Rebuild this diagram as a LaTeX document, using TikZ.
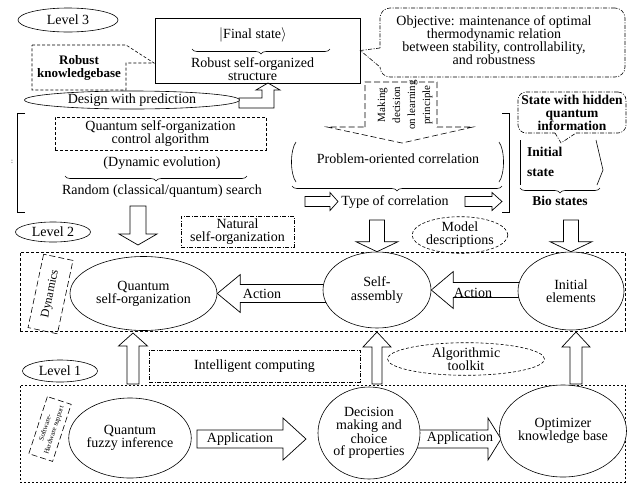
\documentclass[tikz,border=0pt]{standalone}
\usepackage{fontspec}
\setmainfont{Liberation Serif}
\usetikzlibrary{calc,shapes.geometric,decorations.pathreplacing,backgrounds}

% hollow block arrow, horizontal: #1 start, #2 tip, #3 signed head length,
% #4 half shaft width, #5 half head width
\newcommand\hblock[5]{\draw[blockarrow] let \p1=(#1), \p2=(#2) in
  ({\x1},{\y2+(#4)}) -- ({\x2+(#3)},{\y2+(#4)}) -- ({\x2+(#3)},{\y2+(#5)}) -- (\p2)
  -- ({\x2+(#3)},{\y2-(#5)}) -- ({\x2+(#3)},{\y2-(#4)}) -- ({\x1},{\y2-(#4)}) -- cycle;}
% hollow block arrow, vertical (same arguments)
\newcommand\vblock[5]{\draw[blockarrow] let \p1=(#1), \p2=(#2) in
  ({\x2-(#4)},{\y1}) -- ({\x2-(#4)},{\y2+(#3)}) -- ({\x2-(#5)},{\y2+(#3)}) -- (\p2)
  -- ({\x2+(#5)},{\y2+(#3)}) -- ({\x2+(#4)},{\y2+(#3)}) -- ({\x2+(#4)},{\y1}) -- cycle;}

\begin{document}
\begin{tikzpicture}[x=1pt,y=-1pt,
  font=\fontsize{14}{13.2}\selectfont,
  every node/.style={align=center, inner sep=0pt},
  thinline/.style={line width=0.6pt},
  dbox/.style={draw, line width=0.6pt, dash pattern=on 3pt off 2pt},
  ddot/.style={draw, line width=0.6pt, dash pattern=on 4pt off 1.5pt on 1pt off 1.5pt},
  ldash/.style={draw, line width=0.6pt, dash pattern=on 6pt off 3pt},
  oval/.style={ellipse, draw, line width=0.6pt, fill=white},
  blockarrow/.style={draw, line width=0.7pt, fill=white, line join=miter},
  brc/.style={decorate, decoration={brace, amplitude=5pt, mirror}, line width=0.6pt},
  boldtext/.style={font=\fontsize{13.5}{13}\selectfont\bfseries},
]
\useasboundingbox (0,0) rectangle (630,483);

% ---------------- Level 3 ----------------
\node[oval, minimum width=100, minimum height=24] (lv3) at (68,20) {Level 3};

\node[font=\fontsize{13}{13}\selectfont\bfseries] (kb) at (79,68) {Robust\\knowledgebase};
\coordinate (kbtip) at (154,63);
\draw[dbox] (32,45) -- (126,45) -- (kbtip) -- (126,63) -- (126,90) -- (32,90) -- cycle;

\node[draw, thinline, minimum width=205, minimum height=65] (final) at (257.5,50.5) {};
\node (fs) at (253,35) {$|$Final state$\rangle$};
\draw[brc] (192,49) -- (330,49);
\node (rss) at (252.5,69) {Robust self-organized\\structure};

\node[ddot, rounded corners=10pt, minimum width=245, minimum height=69] (obj) at (502.5,42.5) {};
\node (objtext) at (494,40) {Objective: maintenance of optimal\\thermodynamic relation\\between stability, controllability,\\and robustness};
\fill[white] (378.5,48) rectangle (381.5,67);
\draw[ddot] (380,48) -- (final.east) -- (380,67);

\node[oval, minimum width=215, minimum height=17] (design) at (132,100) {Design with prediction};

% left bracket and its contents
\draw[thinline] (25,113) -- (17,113) -- (17,212) -- (25,212);
\node[font=\fontsize{7}{7}\selectfont] (dots) at (12,162) {:};
\node[dbox, minimum width=211, minimum height=33] (qsoca) at (160.5,133.5) {Quantum self-organization\\control algorithm};
\node (dynev) at (162,163) {(Dynamic evolution)};
\draw[brc] (65,176) -- (247,176);
\node (rand) at (162,191) {Random (classical/quantum) search};

% decision on learning principle (dashed block arrow)
\draw[ldash] (365,127) -- (365,82) -- (437,82) -- (437,127) -- (473,127) -- (402,143) -- (327,127) -- cycle;
\node[rotate=90, font=\fontsize{11}{15}\selectfont] (mdec) at (405,105) {Making\\decision\\on learning\\principle};

% problem-oriented correlation
\node (poc) at (398,159) {Problem-oriented correlation};
\draw[thinline] (296,142) .. controls (290,150) and (290,174) .. (296,182);
\draw[thinline] (499,142) .. controls (505,150) and (505,174) .. (499,182);
\draw[brc] (292,186) -- (502,186);
\node (toc) at (395,202) {Type of correlation};
\coordinate (ta1s) at (305,201.5);
\coordinate (ta1t) at (338,201.5);
\coordinate (ta2s) at (465,201.5);
\coordinate (ta2t) at (502,201.5);
\draw[thinline] (502,113) -- (509,113) -- (509,212) -- (502,212);

% bio states
\node[ddot, rounded corners=8pt, boldtext, minimum width=108, minimum height=41] (hidden) at (572,112.5) {State with hidden\\quantum\\information};
\coordinate (stip) at (561,143);
\fill[white] (555,131.5) rectangle (576,134.5);
\draw[ddot] (555,133) -- (stip) -- (576,133);
\node[boldtext, anchor=west] (init) at (527,152) {Initial};
\node[boldtext, anchor=west] (istate) at (527,173) {state};
\draw[thinline] (520,140) -- (520,185);
\draw[thinline] (596,140) -- (603,170) -- (597,185);
\draw[brc] (520,188) -- (600,188);
\node[boldtext] (bio) at (560,201) {Bio states};

% ---------------- Level 2 ----------------
\node[oval, minimum width=75, minimum height=20] (lv2) at (53,232) {Level 2};
\node[ddot, minimum width=113, minimum height=31] (nat) at (237.5,231.5) {Natural\\self-organization};
\node[oval, dash pattern=on 3pt off 2pt, minimum width=94, minimum height=33] (model) at (460,235) {Model\\descriptions};

\node[dbox, minimum width=605, minimum height=79] (L2) at (322.5,291.5) {};
\node[ldash, rotate=78, minimum width=75, minimum height=30, font=\fontsize{12}{12}\selectfont] (dyn) at (50.5,294) {Dynamics};
\node[oval, minimum width=147, minimum height=74] (qso) at (143.5,293.5) {Quantum\\self-organization};
\node[oval, minimum width=108, minimum height=76] (sa) at (377,290) {Self-\\assembly};
\node[oval, minimum width=106, minimum height=78] (ie) at (571,291) {Initial\\elements};
\node (act1) at (262,294) {Action};
\node (act2) at (473,293) {Action};

% ---------------- Level 1 ----------------
\node[oval, minimum width=75, minimum height=22] (lv1) at (60,371) {Level 1};
\node[ddot, minimum width=211, minimum height=32] (intel) at (254.5,366) {Intelligent computing};
\node[oval, dash pattern=on 3pt off 2pt, minimum width=157, minimum height=28] (algo) at (466,359) {Algorithmic\\toolkit};

\node[draw, line width=0.6pt, dash pattern=on 2pt off 2pt, minimum width=605, minimum height=97] (L1) at (322.5,433.5) {};
\node[ldash, rotate=72, minimum width=60, minimum height=25, font=\fontsize{7}{9}\selectfont] (sw) at (50,429) {Software-\\Hardware support};
\node[oval, minimum width=107, minimum height=80] (qfi) at (130,438) {Quantum\\fuzzy inference};
\node[oval, minimum width=102, minimum height=92, font=\fontsize{14}{12.7}\selectfont] (dec) at (369,433) {Decision\\making and\\choice\\of properties};
\node[oval, minimum width=122, minimum height=92] (opt) at (563,431) {Optimizer\\knowledge base};
\node (app1) at (240,439) {Application};
\node (app2) at (460,438) {Application};

% ---------------- block arrows ----------------
\coordinate (rs) at (138,206);
\coordinate (rt) at (138,245);
\coordinate (sas) at (377,220);
\coordinate (ies) at (571,220);
\coordinate (u1s) at (133,384);
\coordinate (u1t) at (133,333);
\coordinate (u2s) at (377,384);
\coordinate (u2t) at (377,332);
\coordinate (u3s) at (576,384);
\coordinate (u3t) at (576,332);
\coordinate (a1s) at (197,439);
\coordinate (a1t) at (306,439);
\coordinate (a2t) at (501,439);
\begin{scope}[on background layer]
  % design with prediction -> final state
  \draw[blockarrow] (239,98) -- (262,98) -- (262,90) -- (256,90) -- (268,83) -- (280,90)
    -- (274,90) -- (274,108) -- (239,108) -- cycle;
  \hblock{ta1s}{ta1t}{-8}{5}{9}
  \hblock{ta2s}{ta2t}{-10}{5}{9}
  \vblock{rs}{rt}{11}{8}{19}
  \vblock{sas}{sa.north}{10}{7.5}{21}
  \vblock{ies}{ie.north}{10}{7.5}{21}
  \hblock{sa.center}{qso.east}{23}{9}{19}
  \hblock{ie.center}{sa.east}{22}{7.5}{18.5}
  \vblock{u1s}{u1t}{-13}{6}{14.5}
  \vblock{u2s}{u2t}{-15}{5}{14}
  \vblock{u3s}{u3t}{-15}{6}{14}
  \hblock{a1s}{a1t}{-23}{9}{21}
  \hblock{dec.center}{a2t}{-13}{9}{21}
\end{scope}
\end{tikzpicture}
\end{document}
